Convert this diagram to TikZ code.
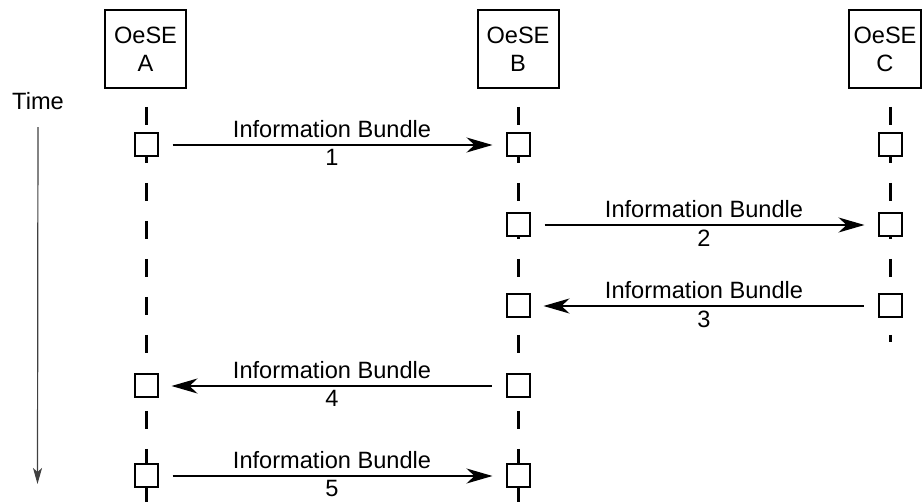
\documentclass[tikz,border=0pt]{standalone}
\usepackage{fontspec}
\setmainfont{Liberation Sans}
\usetikzlibrary{arrows.meta,positioning}
\tikzset{
  ent/.style   = { draw, line width=1pt, align=center, minimum width=40.5pt, minimum height=39pt, inner sep=0pt },
  act/.style   = { draw, line width=1pt, fill=white, minimum size=11.5pt, inner sep=0pt },
  life/.style  = { line width=1.5pt, dash pattern=on 9pt off 10pt },
  msg/.style   = { line width=0.75pt, -{Stealth[length=13pt,width=7.5pt,inset=4pt]}, shorten <=7pt, shorten >=6.5pt },
  lbl/.style   = { midway, above, inner sep=3.5pt },
  num/.style   = { midway, below, inner sep=2pt },
  tline/.style = { black!75, line width=0.6pt, -{Stealth[length=8pt,width=4.5pt,inset=2pt]} }
}

\begin{document}
\begin{tikzpicture}[x=0.5pt, y=-0.5pt, font=\fontsize{11.8pt}{14pt}\selectfont]
  \useasboundingbox (0,0) rectangle (922,502);
  % entities
  \node[ent] (oa) at (145.5,49.5) {OeSE\\A};
  \node[ent] (ob) at (518,49.5) {OeSE\\B};
  \node[ent, minimum width=36pt] (oc) at (885,49.5) {OeSE\\C};
  \node[inner sep=0pt] (time) at (38,101) {Time};
  \coordinate (tend) at (37.5,484);
  \draw[tline, shorten <=8.5pt] (time.south) -- (tend);
  % lifelines
  \coordinate (la0) at (146,107); \coordinate (la1) at (146,506);
  \coordinate (lb0) at (518,107); \coordinate (lb1) at (518,506);
  \coordinate (lc0) at (890,107); \coordinate (lc1) at (890,342);
  \draw[life] (la0) -- (la1);
  \draw[life] (lb0) -- (lb1);
  \draw[life] (lc0) -- (lc1);
  \node[act] (a1) at (146,145) {};
  \node[act] (b1) at (518,145) {};
  \node[act] (c1) at (890,145) {};
  \node[act] (b2) at (518,225) {};
  \node[act] (c2) at (890,225) {};
  \node[act] (b3) at (518,306) {};
  \node[act] (c3) at (890,306) {};
  \node[act] (a4) at (146,386) {};
  \node[act] (b4) at (518,386) {};
  \node[act] (a5) at (146,476) {};
  \node[act] (b5) at (518,476) {};
  % messages
  \draw[msg] (a1) -- node[lbl] {Information Bundle} node[num] {1} (b1);
  \draw[msg] (b2) -- node[lbl] {Information Bundle} node[num] {2} (c2);
  \draw[msg] (c3) -- node[lbl] {Information Bundle} node[num] {3} (b3);
  \draw[msg] (b4) -- node[lbl] {Information Bundle} node[num] {4} (a4);
  \draw[msg] (a5) -- node[lbl] {Information Bundle} node[num] {5} (b5);
\end{tikzpicture}
\end{document}
